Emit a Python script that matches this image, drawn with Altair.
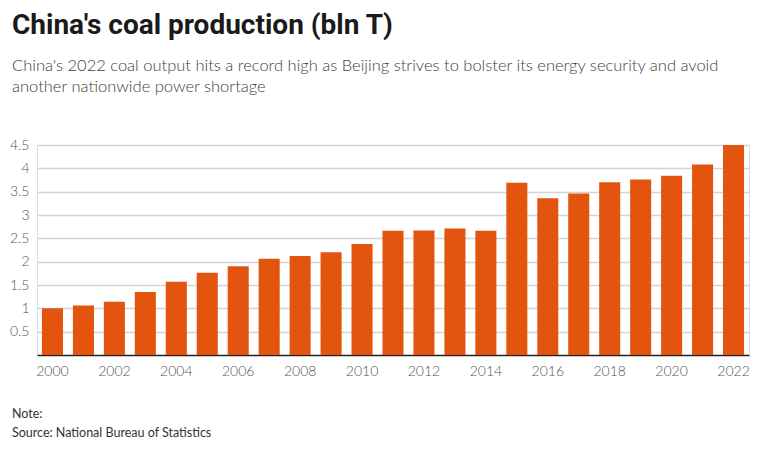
import altair as alt
import pandas as pd

years = [str(y) for y in range(2000, 2023)]
production = [1.00, 1.06, 1.14, 1.35, 1.57, 1.76, 1.90, 2.06, 2.12, 2.20, 2.38,
              2.66, 2.67, 2.71, 2.66, 3.69, 3.36, 3.46, 3.70, 3.76, 3.84, 4.08, 4.50]
y_ticks = [0.5, 1, 1.5, 2, 2.5, 3, 3.5, 4, 4.5]
x_label_years = [str(y) for y in range(2000, 2023, 2)]

title_text = "China's coal production (bln T)"
subtitle_lines = [
    "China's 2022 coal output hits a record high as Beijing strives to bolster its energy security and avoid",
    "another nationwide power shortage",
]
footer_lines = ["Note:", "Source: National Bureau of Statistics"]

df = pd.DataFrame({"year": years, "value": production})

W, H = 712, 210
FONT = "Lato"

bars = alt.Chart(df).mark_bar(color="#E3550F").encode(
    x=alt.X("year:O", scale=alt.Scale(paddingInner=0.32, paddingOuter=0.16),
            axis=alt.Axis(title=None, values=x_label_years, labelAngle=0,
                          labelFont=FONT, labelFontSize=14, labelColor="#555555",
                          labelFontWeight=300, labelPadding=9,
                          ticks=False, domainColor="#222222", domainWidth=1.5)),
    y=alt.Y("value:Q", scale=alt.Scale(domain=[0, 4.5], nice=False),
            axis=alt.Axis(title=None, values=y_ticks, labelFont=FONT, labelFontSize=14,
                          labelColor="#555555", labelFontWeight=300, labelPadding=8,
                          ticks=False, domain=False, gridColor="#d4d4d4", gridWidth=1.3,
                          labelExpr="datum.value")),
)

one = alt.Data(values=[{}])

def text_layer(txt, x, y, size, weight, color, font=FONT):
    return alt.Chart(one).mark_text(
        text=txt, align="left", baseline="alphabetic", font=font,
        fontSize=size, fontWeight=weight, color=color,
    ).encode(x=alt.value(x), y=alt.value(y))

layers = [bars,
          text_layer(title_text, -25, -111, 28, "bold", "#1a1a1a", "Roboto"),
          text_layer(subtitle_lines[0], -25, -74, 16.5, 300, "#404040"),
          text_layer(subtitle_lines[1], -25, -53, 16.5, 300, "#404040"),
          text_layer(footer_lines[0], -25, 273, 12.5, "normal", "#333333"),
          text_layer(footer_lines[1], -25, 292, 12.5, "normal", "#333333")]

chart = alt.layer(*layers).properties(
    width=W, height=H,
    autosize=alt.AutoSizeParams(type="none"),
    padding={"left": 29, "top": 137, "right": 5, "bottom": 86},
).configure_view(stroke=None).configure(background="white")

chart.save("out.html", embed_options={"renderer": "svg", "actions": False})
